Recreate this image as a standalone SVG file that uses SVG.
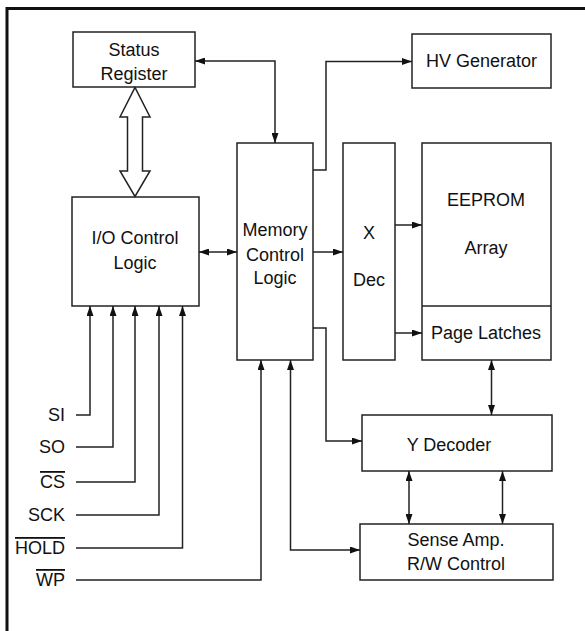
<svg xmlns="http://www.w3.org/2000/svg" width="585" height="631" viewBox="0 0 585 631">
<defs>
<style>
.box{fill:#fff;stroke:#222;stroke-width:1.5}
.ln{fill:none;stroke:#222;stroke-width:1.5}
.a{marker-end:url(#ah)}
.b{marker-start:url(#ah);marker-end:url(#ah)}
text{font-family:"Liberation Sans",Arial,sans-serif;font-size:18px;fill:#111;text-anchor:middle}
.r{text-anchor:end}
.ov{text-decoration:overline}
</style>
<marker id="ah" viewBox="0 0 10 7" refX="10" refY="3.5" markerWidth="10" markerHeight="7" markerUnits="userSpaceOnUse" orient="auto-start-reverse">
<path d="M0,0 L10,3.5 L0,7 z" fill="#111"/>
</marker>
</defs>
<rect width="585" height="631" fill="#fff"/>
<path d="M7,631 V8.5 H585" fill="none" stroke="#111" stroke-width="3"/>

<g id="status-register">
<rect class="box" x="73" y="32" width="122" height="55"/>
<text x="134" y="56">Status</text>
<text x="134" y="80">Register</text>
</g>
<g id="io-control">
<rect class="box" x="72" y="197" width="127" height="109"/>
<text x="135" y="244">I/O Control</text>
<text x="135" y="269">Logic</text>
</g>
<g id="memory-control">
<rect class="box" x="237" y="143" width="76" height="217"/>
<text x="275" y="236">Memory</text>
<text x="275" y="261">Control</text>
<text x="275" y="284">Logic</text>
</g>
<g id="hv-generator">
<rect class="box" x="412" y="34" width="139" height="54"/>
<text x="481.5" y="67">HV Generator</text>
</g>
<g id="x-dec">
<rect class="box" x="343" y="143" width="52" height="217"/>
<text x="369" y="239">X</text>
<text x="369" y="286">Dec</text>
</g>
<g id="eeprom-array">
<rect class="box" x="422" y="143" width="129" height="217"/>
<line class="ln" x1="422" y1="306" x2="551" y2="306"/>
<text x="486" y="206">EEPROM</text>
<text x="486" y="254">Array</text>
<text x="486" y="339">Page Latches</text>
</g>
<g id="y-decoder">
<rect class="box" x="362" y="415" width="190" height="56"/>
<text x="449" y="451">Y Decoder</text>
</g>
<g id="sense-amp">
<rect class="box" x="360" y="524" width="193" height="56"/>
<text x="456" y="546">Sense Amp.</text>
<text x="456" y="570">R/W Control</text>
</g>
<g id="pins">
<text class="r" x="65" y="421">SI</text>
<text class="r" x="65" y="453">SO</text>
<text class="r ov" x="65" y="488">CS</text>
<text class="r" x="65" y="521">SCK</text>
<text class="r ov" x="65" y="554">HOLD</text>
<text class="r ov" x="65" y="586">WP</text>
</g>

<g id="connectors">
<path d="M127.5,117 H120 L135,87.5 L150,117 H142.5 V171 H150 L135,196.5 L120,171 H127.5 Z" fill="#fff" stroke="#222" stroke-width="1.5" stroke-linejoin="miter"/>
<path class="ln b" d="M195,61 H275 V143"/>
<path class="ln b" d="M199,252 H237"/>
<path class="ln a" d="M313,170 H326 V61.5 H412"/>
<path class="ln a" d="M313,252 H343"/>
<path class="ln a" d="M395,225 H422"/>
<path class="ln a" d="M395,333 H422"/>
<path class="ln a" d="M313,328 H326 V441 H362"/>
<path class="ln b" d="M491.5,360 V415"/>
<path class="ln b" d="M409,471 V524"/>
<path class="ln b" d="M502.5,471 V524"/>
<path class="ln b" d="M290.5,360 V550 H360"/>
<path class="ln a" d="M76,580 H261 V360"/>
<path class="ln a" d="M76,415 H90 V306"/>
<path class="ln a" d="M76,447 H113 V306"/>
<path class="ln a" d="M76,482 H135 V306"/>
<path class="ln a" d="M76,515 H159 V306"/>
<path class="ln a" d="M76,548 H182.5 V306"/>
</g>
</svg>
